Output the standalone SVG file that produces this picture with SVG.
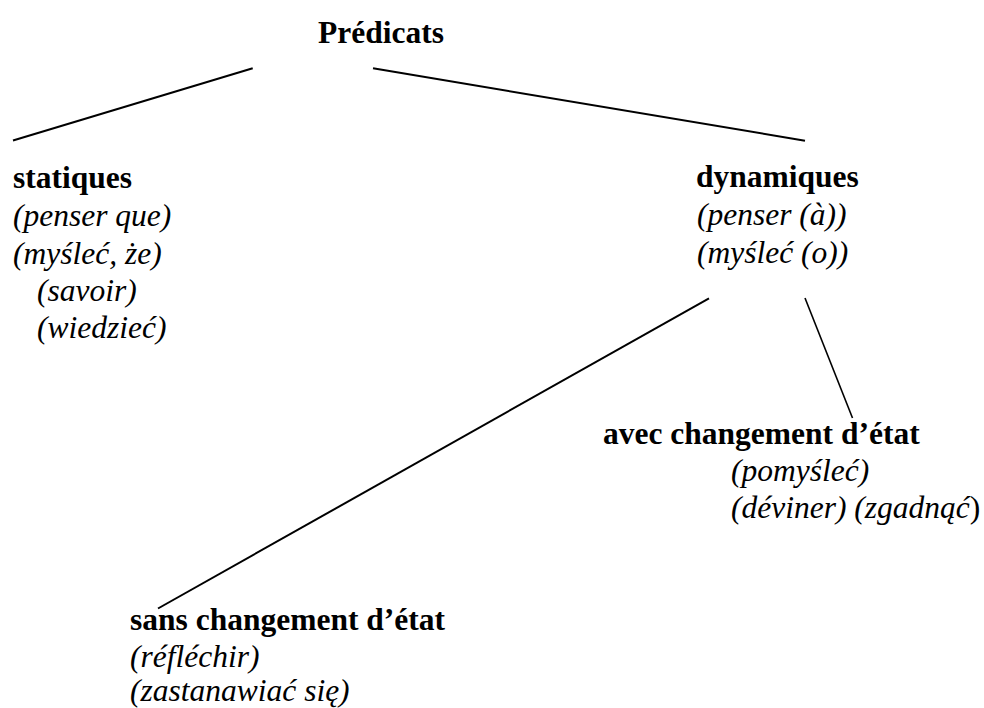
<svg xmlns="http://www.w3.org/2000/svg" width="984" height="708" viewBox="0 0 984 708">
<style>
text{font-size:31.5px;fill:#000}
.b{font-weight:bold}
.i{font-style:italic}
.n{font-style:normal}
.c line{stroke:#000;stroke-width:2;stroke-linecap:butt}
</style>
<rect width="984" height="708" fill="#fff"/>
<g id="connectors" class="c">
<line x1="252.7" y1="68.3" x2="13" y2="140.5"/>
<line x1="373" y1="68.3" x2="805" y2="140.7"/>
<line x1="709" y1="298.3" x2="158" y2="608.5"/>
<line x1="805" y1="298" x2="852.5" y2="418" style="stroke-width:1.6"/>
</g>
<g font-family="'Liberation Serif', Tinos, 'Times New Roman', 'DejaVu Serif', serif">
<g id="predicats"><text class="b" x="318" y="43">Prédicats</text></g>
<g id="statiques">
<text class="b" x="13" y="188">statiques</text>
<text class="i" x="13" y="226">(penser que)</text>
<text class="i" x="13" y="264">(myśleć, że)</text>
<text class="i" x="37" y="301">(savoir)</text>
<text class="i" x="37" y="338">(wiedzieć)</text>
</g>
<g id="dynamiques">
<text class="b" x="696" y="187">dynamiques</text>
<text class="i" x="697" y="225">(penser (à))</text>
<text class="i" x="697" y="263">(myśleć (o))</text>
</g>
<g id="avec">
<text class="b" x="603" y="444">avec changement d’état</text>
<text class="i" x="731" y="481">(pomyśleć)</text>
<text class="i" x="731" y="518">(déviner) (zgadnąć<tspan class="n">)</tspan></text>
</g>
<g id="sans">
<text class="b" x="130" y="630">sans changement d’état</text>
<text class="i" x="130" y="667">(réfléchir)</text>
<text class="i" x="130" y="701">(zastanawiać się)</text>
</g>
</g>
</svg>
